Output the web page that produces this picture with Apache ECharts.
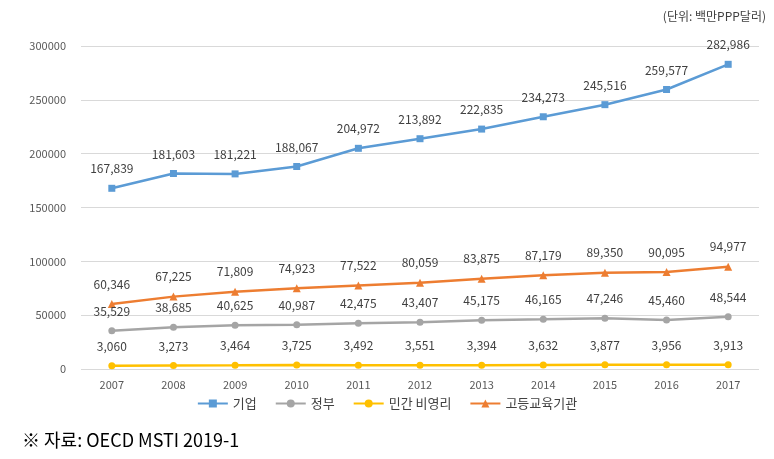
<!DOCTYPE html>
<html><head><meta charset="utf-8">
<script src="https://cdn.jsdelivr.net/npm/echarts@6/dist/echarts.min.js"></script>
<style>html,body{margin:0;padding:0;background:#fff}#c{width:774px;height:459px}</style>
</head><body><div id="c"></div>
<script>
const years = ['2007','2008','2009','2010','2011','2012','2013','2014','2015','2016','2017'];
const business = [167839,181603,181221,188067,204972,213892,222835,234273,245516,259577,282986];
const government = [35529,38685,40625,40987,42475,43407,45175,46165,47246,45460,48544];
const privateNonProfit = [3060,3273,3464,3725,3492,3551,3394,3632,3877,3956,3913];
const higherEdu = [60346,67225,71809,74923,77522,80059,83875,87179,89350,90095,94977];
const seriesNames = ['기업','정부','민간 비영리','고등교육기관'];
const yTicks = [0,50000,100000,150000,200000,250000,300000];

const font = "'Malgun Gothic','Noto Sans CJK KR',sans-serif";
const colors = ['#5B9BD5','#A5A5A5','#FFC000','#ED7D31'];
const symbols = ['rect','circle','circle','triangle'];
const datas = [business, government, privateNonProfit, higherEdu];

const chart = echarts.init(document.getElementById('c'));
chart.setOption({
  animation:false,
  textStyle:{fontFamily:font},
  graphic:[
    {type:'text', right:8, top:10, style:{text:'(단위: 백만PPP달러)', fontSize:12, fill:'#404040', fontFamily:font}},
    {type:'text', left:22, top:431, style:{text:'※ 자료: OECD MSTI 2019-1', fontSize:18, fill:'#000', fontFamily:font}}
  ],
  legend:{
    bottom:44, left:'center', itemWidth:30, itemHeight:10, itemGap:18,
    textStyle:{fontSize:13, color:'#404040', fontFamily:font},
    data: seriesNames
  },
  grid:{left:81, right:15, top:46, bottom:90},
  xAxis:{
    type:'category', data:years, boundaryGap:true,
    axisLine:{show:false}, axisTick:{show:false},
    axisLabel:{fontSize:11, color:'#595959', margin:10}
  },
  yAxis:{
    type:'value', min:0, max:300000, interval:50000,
    axisLine:{show:false}, axisTick:{show:false},
    axisLabel:{fontSize:11, color:'#595959', margin:15, formatter:v=>String(v)},
    splitLine:{lineStyle:{color:'#D9D9D9', width:1}}
  },
  series: datas.map((d,i)=>({
    name: seriesNames[i], type:'line', data:d,
    symbol: symbols[i], symbolSize: i===3?8:7,
    lineStyle:{color:colors[i], width:2.5},
    itemStyle:{color:colors[i]},
    label:{show:true, position:'top', distance:10, fontSize:12, color:'#404040',
      formatter:p=>p.value.toLocaleString('en-US')}
  }))
});
</script></body></html>
